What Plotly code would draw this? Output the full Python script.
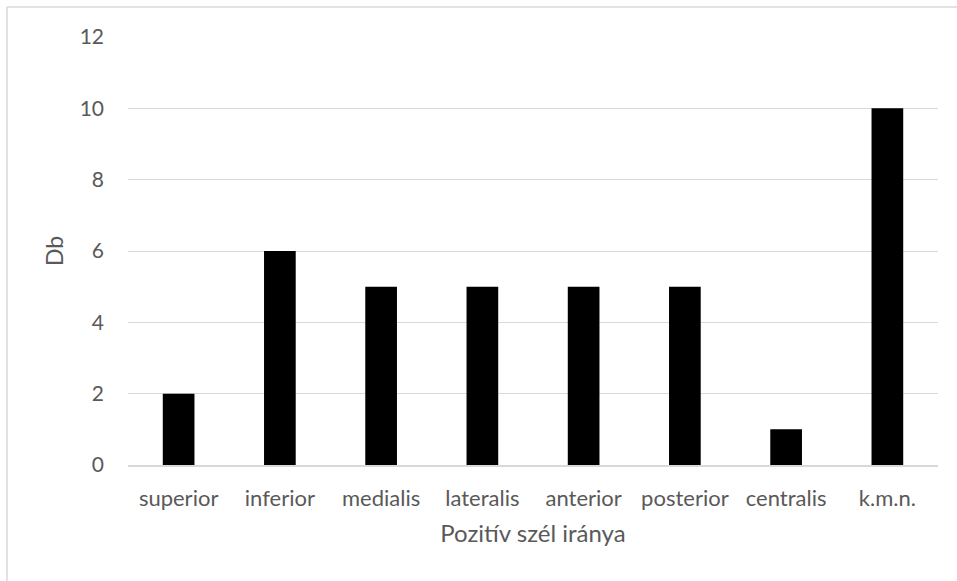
import plotly.graph_objects as go

categories = ["superior", "inferior", "medialis", "lateralis", "anterior", "posterior", "centralis", "k.m.n."]
values = [2, 6, 5, 5, 5, 5, 1, 10]
y_ticks = [0, 2, 4, 6, 8, 10, 12]

W, H = 957, 581
L, R, T, B = 128, 19, 37, 116
pw, ph = W - L - R, H - T - B

def px_x(px):
    return (px - L) / pw

def px_y(py):
    return (H - B - py) / ph

font_fam = "Lato, Open Sans, sans-serif"
txt = "#595959"

fig = go.Figure(go.Bar(x=categories, y=values, marker=dict(color="black", line=dict(width=0))))
fig.update_layout(
    width=W, height=H,
    margin=dict(l=L, r=R, t=T, b=B),
    paper_bgcolor="white", plot_bgcolor="white",
    bargap=0.687,
    showlegend=False,
    font=dict(family=font_fam, color=txt, size=21),
    xaxis=dict(
        showgrid=False, showline=True, linecolor="#d9d9d9", linewidth=1.5,
        ticks="outside", ticklen=13, tickcolor="rgba(0,0,0,0)", tickfont=dict(size=22, color=txt),
        title=dict(text="Pozitív szél iránya", font=dict(size=24, color=txt), standoff=15),
    ),
    yaxis=dict(
        range=[0, 12], tickvals=y_ticks, showgrid=True, gridcolor="#d9d9d9", gridwidth=1,
        zeroline=False, showline=False, ticks="", ticklabelstandoff=23,
        tickfont=dict(size=21, color=txt),
        title=dict(text="Db", font=dict(size=23, color=txt), standoff=9),
    ),
    shapes=[
        dict(type="line", xref="paper", yref="paper", x0=px_x(7), x1=px_x(W + 5), y0=px_y(7), y1=px_y(7),
             line=dict(color="#d9d9d9", width=1.5)),
        dict(type="line", xref="paper", yref="paper", x0=px_x(7), x1=px_x(7), y0=px_y(7), y1=px_y(H + 5),
             line=dict(color="#d9d9d9", width=1.5)),
    ],
)
fig.write_html("out.html")
